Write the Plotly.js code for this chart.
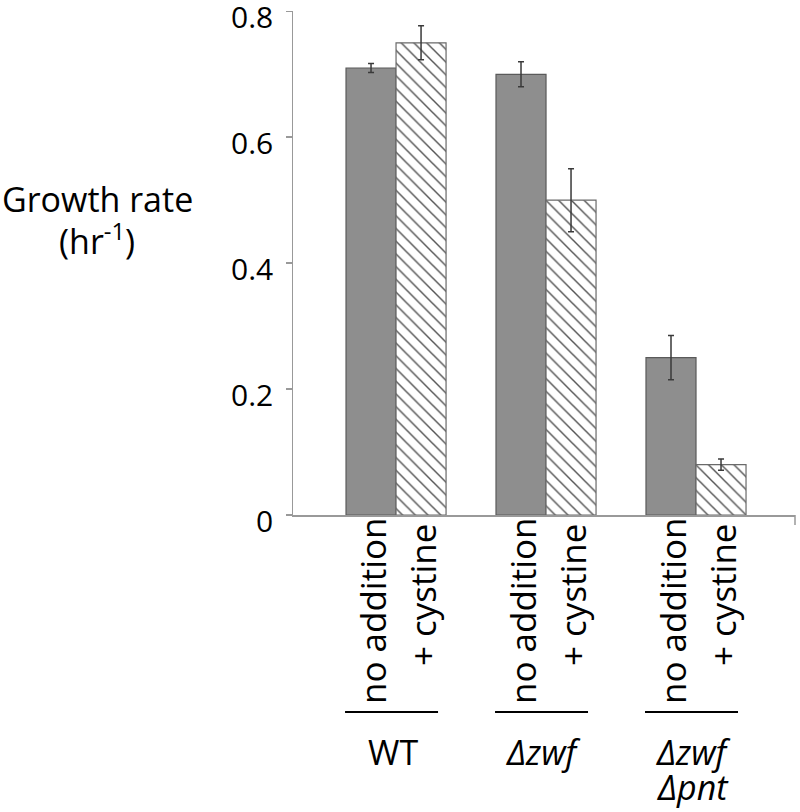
<!DOCTYPE html>
<html>
<head>
<meta charset="utf-8">
<script src="https://cdn.plot.ly/plotly-3.0.1.min.js"></script>
<style>html,body{margin:0;padding:0;background:#fff;}#chart{width:800px;height:812px;}</style>
</head>
<body>
<div id="chart"></div>
<script>
const strains = ["WT", "Δzwf", "Δzwf Δpnt"];
const strainLabelLines = [["WT"], ["<i>Δzwf</i>"], ["<i>Δzwf</i>", "<i>Δpnt</i>"]];
const conditions = ["no addition", "+ cystine"];
const noAddition = [0.71, 0.70, 0.25];
const noAdditionErr = [0.007, 0.02, 0.035];
const cystine = [0.75, 0.50, 0.08];
const cystineErr = [0.027, 0.05, 0.009];
const yTicks = [0, 0.2, 0.4, 0.6, 0.8];
const yTickText = ["0", "0.2", "0.4", "0.6", "0.8"];
const yTitleLines = ["Growth rate", "(hr<sup>-1</sup>)"];

const FONT = "'Open Sans', sans-serif";
const xIdx = strains.map((_, i) => i);

const traces = [
  {
    type: "bar", name: conditions[0], x: xIdx, y: noAddition,
    marker: {color: "#8e8e8e", line: {color: "#5a5a5a", width: 1.2}},
    error_y: {type: "data", array: noAdditionErr, visible: true, color: "#3a3a3a", thickness: 1.5, width: 3}
  },
  {
    type: "bar", name: conditions[1], x: xIdx, y: cystine,
    marker: {color: "#ffffff", line: {color: "#6a6a6a", width: 1.2},
      pattern: {shape: "\\", fgcolor: "#555555", bgcolor: "#ffffff", size: 9, solidity: 0.16}},
    error_y: {type: "data", array: cystineErr, visible: true, color: "#3a3a3a", thickness: 1.5, width: 3}
  }
];

const annotations = [];
const shapes = [];
const off = [-1/6, 1/6];
const condShift = [-96, -80];
strains.forEach((s, i) => {
  conditions.forEach((c, j) => {
    annotations.push({
      xref: "x", yref: "paper", x: i + off[j], y: 0, yshift: condShift[j], xshift: 1,
      text: c, showarrow: false, textangle: -90, xanchor: "center", yanchor: "middle",
      font: {family: FONT, size: 35, color: "#000"}
    });
  });
  shapes.push({type: "line", xref: "x", yref: "paper", x0: i - 0.34, x1: i + 0.28, y0: -0.391, y1: -0.391,
    line: {color: "#000", width: 2}});
  strainLabelLines[i].forEach((ln, k) => {
    annotations.push({
      xref: "x", yref: "paper", x: i - 0.02, y: 0, yshift: -237 - 35 * k,
      text: ln, showarrow: false, xanchor: "center", yanchor: "middle",
      font: {family: FONT, size: 34, color: "#000"}
    });
  });
});
yTitleLines.forEach((ln, k) => {
  annotations.push({
    xref: "paper", yref: "paper", x: -0.39, y: 1, yshift: -(199 + 40 * k - 11),
    text: ln, showarrow: false, xanchor: "center", yanchor: "middle",
    font: {family: FONT, size: 34, color: "#000"}
  });
});
yTicks.forEach((v, k) => {
  annotations.push({
    xref: "paper", yref: "y", x: 0, y: v, xshift: -18, yshift: -5,
    text: yTickText[k], showarrow: false, xanchor: "right", yanchor: "middle",
    font: {family: FONT, size: 30, color: "#000"}
  });
});
shapes.push({type: "line", xref: "paper", yref: "paper", x0: 1, x1: 1, y0: 0, y1: -0.02,
  line: {color: "#999", width: 1.5}});

const layout = {
  width: 800, height: 812,
  margin: {l: 293, r: 5, t: 11, b: 297},
  paper_bgcolor: "#fff", plot_bgcolor: "#fff",
  showlegend: false,
  barmode: "group", bargap: 0.333, bargroupgap: 0,
  xaxis: {range: [-0.687, 2.66], showticklabels: false, ticks: "", showgrid: false, zeroline: false,
    showline: true, linecolor: "#999", linewidth: 1.5, fixedrange: true},
  yaxis: {range: [0, 0.8005], tickvals: yTicks, ticks: "outside", ticklen: 6, showticklabels: false,
    tickcolor: "#999", tickwidth: 1.5, showgrid: false, zeroline: false, showline: true,
    linecolor: "#999", linewidth: 1.5},
  annotations: annotations,
  shapes: shapes
};

Plotly.newPlot("chart", traces, layout, {displayModeBar: false, staticPlot: true});
</script>
</body>
</html>
